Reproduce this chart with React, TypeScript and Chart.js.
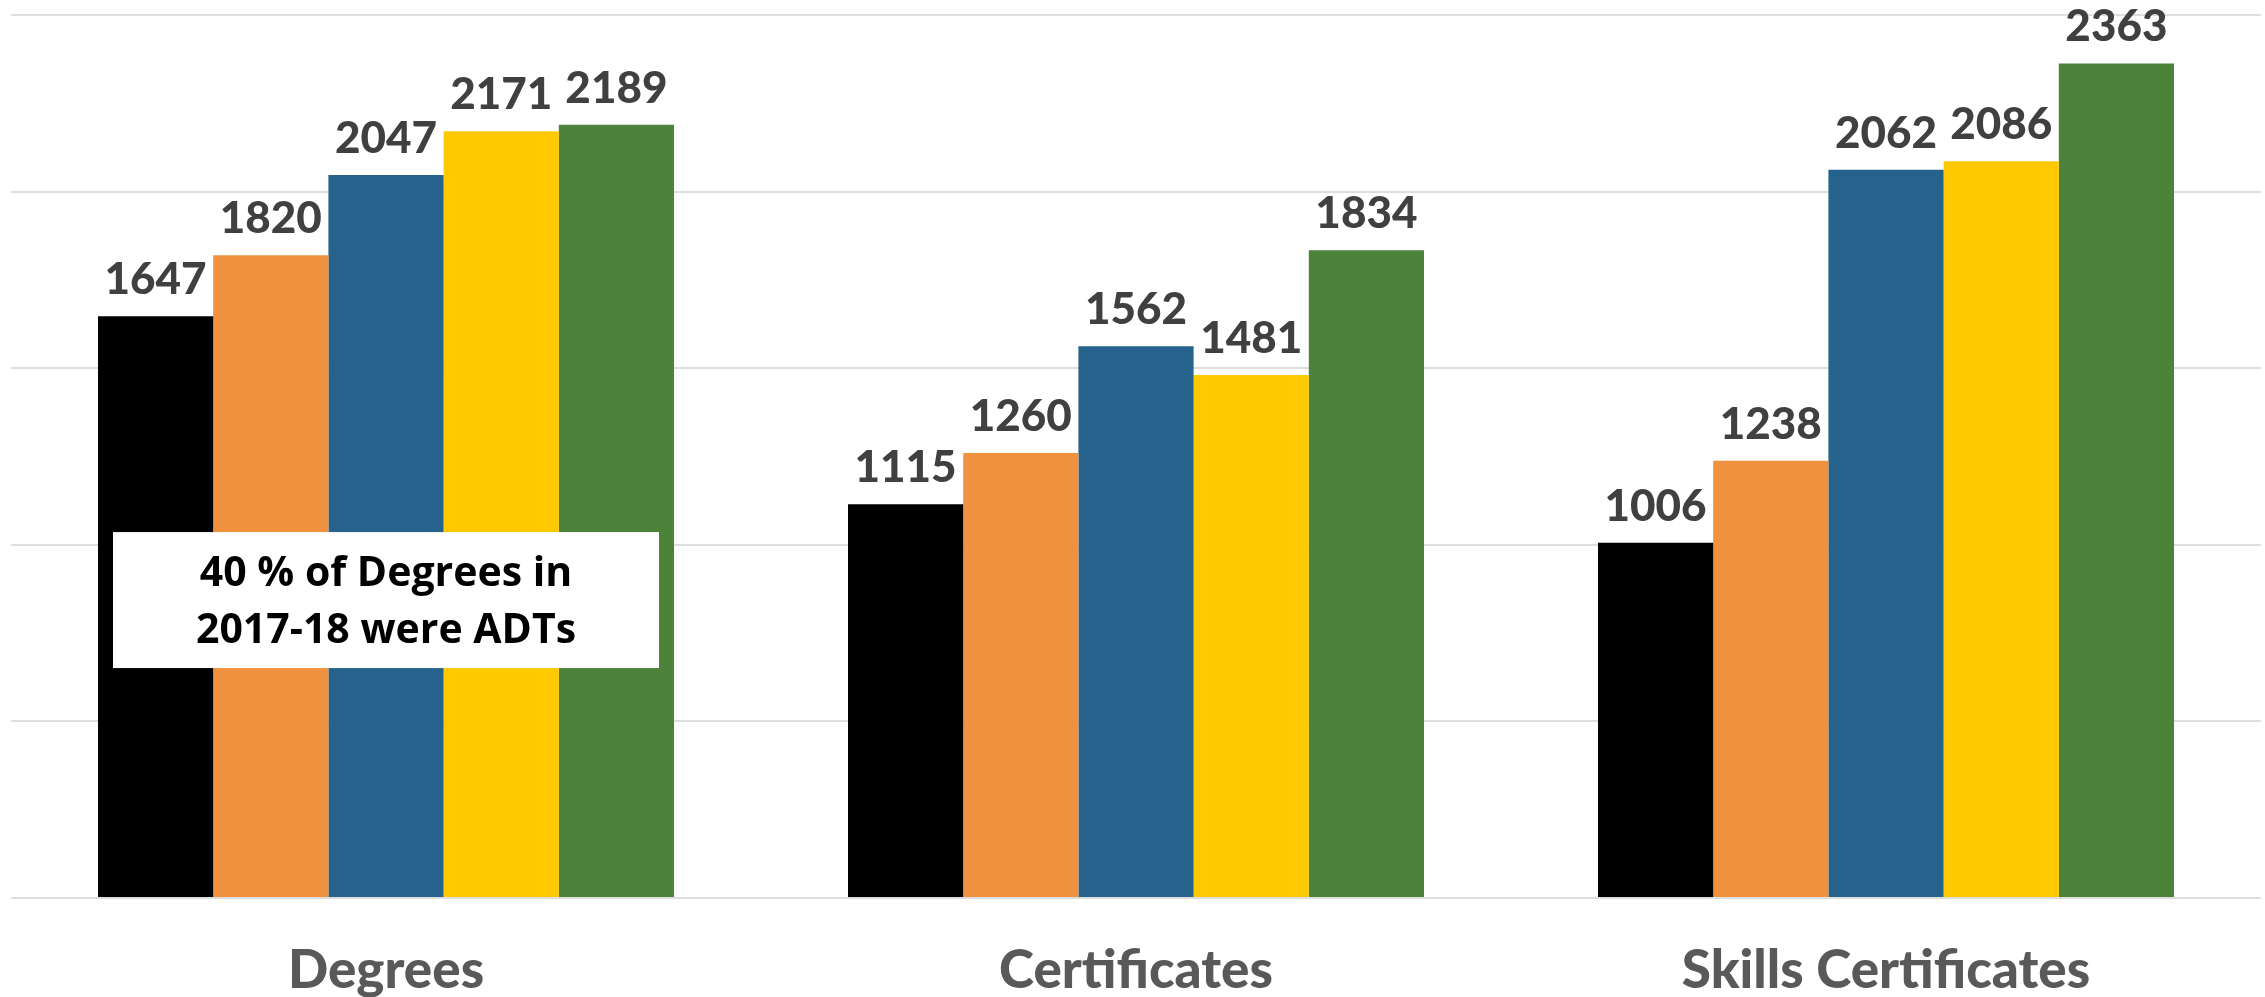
import React, { useEffect, useRef } from "react";
import { Chart, registerables } from "chart.js";

Chart.register(...registerables);

const categories = ["Degrees", "Certificates", "Skills Certificates"];
const seriesNames = ["2013-14", "2014-15", "2015-16", "2016-17", "2017-18"];
const series1314 = [1647, 1115, 1006];
const series1415 = [1820, 1260, 1238];
const series1516 = [2047, 1562, 2062];
const series1617 = [2171, 1481, 2086];
const series1718 = [2189, 1834, 2363];
const seriesColors = ["#000000", "#F09140", "#25638C", "#FFC900", "#4C823A"];
const yTicks = [0, 500, 1000, 1500, 2000, 2500];
const noteLines = ["40 % of Degrees in", "2017-18 were ADTs"];

const valueLabelPlugin = {
  id: "valueLabels",
  afterDatasetsDraw(chart: any) {
    const ctx = chart.ctx;
    ctx.save();
    ctx.font = "900 44px Lato";
    ctx.fillStyle = "#404040";
    ctx.textAlign = "center";
    ctx.textBaseline = "alphabetic";
    chart.data.datasets.forEach((ds: any, i: number) => {
      const meta = chart.getDatasetMeta(i);
      meta.data.forEach((bar: any, j: number) => {
        ctx.fillText(String(ds.data[j]), bar.x, bar.y - 22);
      });
    });
    ctx.restore();
  },
};

const notePlugin = {
  id: "noteBox",
  afterDatasetsDraw(chart: any) {
    const ctx = chart.ctx;
    const xs = chart.scales.x;
    const ys = chart.scales.y;
    const cx = xs.getPixelForValue(0);
    const catW = (chart.chartArea.right - chart.chartArea.left) / categories.length;
    const w = catW * 0.728;
    const top = ys.getPixelForValue(1036);
    const bottom = ys.getPixelForValue(651);
    ctx.save();
    ctx.fillStyle = "#FFFFFF";
    ctx.fillRect(cx - w / 2, top, w, bottom - top);
    ctx.fillStyle = "#000000";
    ctx.font = "bold 41px 'Open Sans'";
    ctx.textAlign = "center";
    ctx.textBaseline = "middle";
    const h = bottom - top;
    ctx.fillText(noteLines[0], cx, top + h * 0.31);
    ctx.fillText(noteLines[1], cx, top + h * 0.73);
    ctx.restore();
  },
};

export default function App() {
  const ref = useRef<HTMLCanvasElement | null>(null);
  useEffect(() => {
    if (!ref.current) return;
    const data = [series1314, series1415, series1516, series1617, series1718];
    const chart = new Chart(ref.current, {
      type: "bar",
      data: {
        labels: categories,
        datasets: data.map((d, i) => ({
          label: seriesNames[i],
          data: d,
          backgroundColor: seriesColors[i],
          borderWidth: 0,
          barPercentage: 1,
          categoryPercentage: 0.768,
        })),
      },
      options: {
        animation: false,
        responsive: false,
        maintainAspectRatio: false,
        layout: { padding: { left: 11, right: 4, top: 15, bottom: 0 } },
        plugins: {
          legend: { display: false },
          tooltip: { enabled: false },
        },
        scales: {
          x: {
            grid: { display: false, drawTicks: false },
            border: { display: false },
            afterFit: (scale: any) => {
              scale.height = 99;
            },
            ticks: {
              color: "#595959",
              font: { family: "Lato", size: 53, weight: "900", lineHeight: 1 },
              padding: 46,
              maxRotation: 0,
              autoSkip: false,
            },
          },
          y: {
            min: yTicks[0],
            max: yTicks[yTicks.length - 1],
            afterBuildTicks: (scale: any) => {
              scale.ticks = yTicks.map((v) => ({ value: v }));
            },
            grid: { color: "#DEDEDE", lineWidth: 2, drawTicks: false },
            border: { display: false },
            ticks: { display: false },
          },
        },
      },
      plugins: [notePlugin, valueLabelPlugin],
    });
    return () => chart.destroy();
  }, []);
  return (
    <div style={{ position: "absolute", left: 0, top: 0, width: 2265, height: 997, background: "#fff" }}>
      <canvas ref={ref} width={2265} height={997} style={{ display: "block" }} />
    </div>
  );
}
